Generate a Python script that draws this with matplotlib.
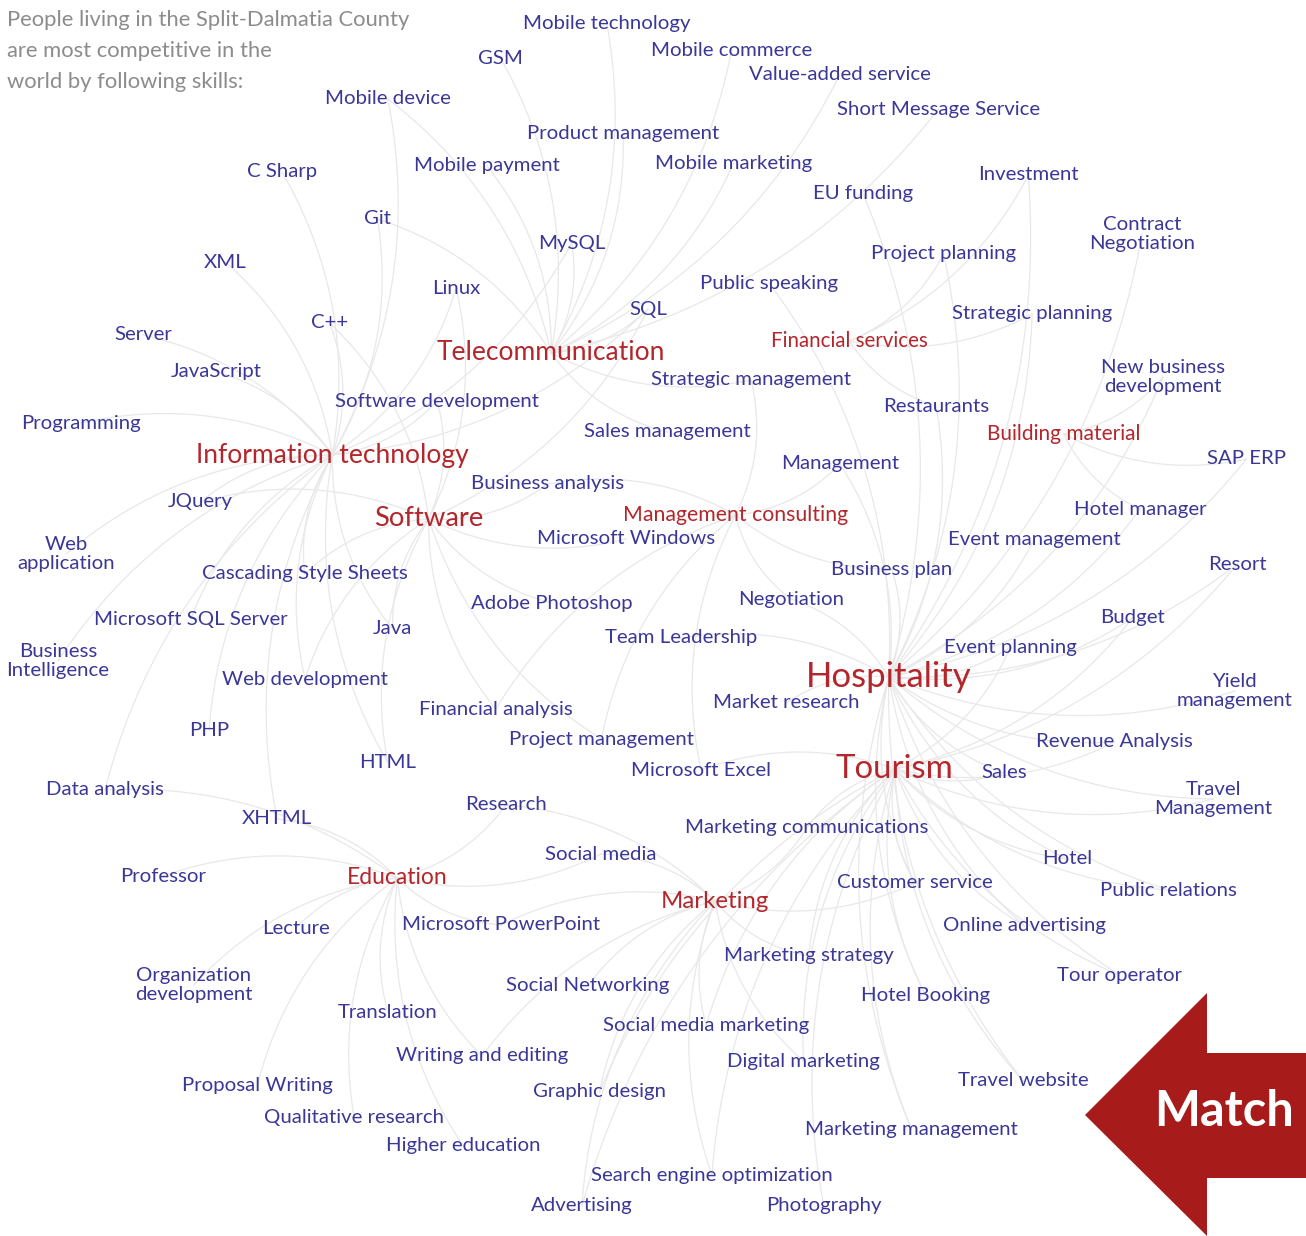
import numpy as np
import matplotlib.pyplot as plt
from matplotlib.patches import Polygon

plt.rcParams['font.family'] = ['Lato', 'DejaVu Sans']

# skill labels: (text, x, y)  single-line are left-anchored, multi-line centred
skills = [
    ('Mobile technology', 523, 23), ('GSM', 478, 58), ('Mobile commerce', 651, 50),
    ('Value-added service', 749, 74), ('Mobile device', 325, 99),
    ('Short Message Service', 837, 109), ('Product management', 527, 134),
    ('C Sharp', 247, 172), ('Mobile payment', 414, 166), ('Mobile marketing', 655, 163),
    ('Investment', 978, 175), ('EU funding', 813, 194), ('Git', 364, 219),
    ('XML', 204, 262), ('MySQL', 538, 243), ('Project planning', 871, 254),
    ('Linux', 432, 288), ('Public speaking', 700, 283), ('SQL', 629, 309),
    ('Strategic planning', 952, 314), ('Server', 114, 335), ('C++', 311, 323),
    ('JavaScript', 171, 372), ('Strategic management', 651, 380),
    ('Software development', 335, 401), ('Restaurants', 883, 406),
    ('Programming', 21, 423), ('Sales management', 584, 432), ('Management', 781, 464),
    ('SAP ERP', 1207, 459), ('Business analysis', 471, 484), ('JQuery', 168, 502),
    ('Hotel manager', 1074, 509), ('Microsoft Windows', 537, 539),
    ('Event management', 948, 539), ('Cascading Style Sheets', 202, 574),
    ('Business plan', 831, 569), ('Resort', 1208, 564), ('Adobe Photoshop', 471, 603),
    ('Negotiation', 738, 599), ('Microsoft SQL Server', 94, 619), ('Java', 373, 629),
    ('Budget', 1100, 618), ('Team Leadership', 605, 638), ('Event planning', 944, 647),
    ('Web development', 222, 679), ('Financial analysis', 419, 709),
    ('Market research', 713, 703), ('PHP', 189, 730), ('Project management', 509, 739),
    ('Revenue Analysis', 1036, 742), ('HTML', 359, 762), ('Microsoft Excel', 631, 770),
    ('Sales', 981, 773), ('Data analysis', 46, 790), ('XHTML', 242, 819),
    ('Research', 465, 805), ('Marketing communications', 685, 828),
    ('Social media', 545, 854), ('Hotel', 1042, 859), ('Professor', 120, 876),
    ('Customer service', 837, 883), ('Public relations', 1100, 890),
    ('Lecture', 262, 928), ('Microsoft PowerPoint', 402, 925),
    ('Online advertising', 943, 926), ('Marketing strategy', 724, 956),
    ('Tour operator', 1057, 975), ('Social Networking', 506, 986),
    ('Hotel Booking', 861, 995), ('Translation', 338, 1012),
    ('Social media marketing', 603, 1025), ('Writing and editing', 396, 1056),
    ('Digital marketing', 727, 1061), ('Proposal Writing', 182, 1085),
    ('Travel website', 958, 1081), ('Graphic design', 533, 1092),
    ('Qualitative research', 264, 1117), ('Marketing management', 805, 1129),
    ('Higher education', 386, 1146), ('Search engine optimization', 591, 1175),
    ('Advertising', 531, 1206), ('Photography', 766, 1206),
]
multi_skills = [
    ('Contract\nNegotiation', 1142, 234), ('New business\ndevelopment', 1163, 377),
    ('Web\napplication', 66, 554), ('Business\nIntelligence', 58, 661),
    ('Yield\nmanagement', 1235, 691), ('Travel\nManagement', 1213, 799),
    ('Organization\ndevelopment', 194, 985),
]

# industries (red hubs): (text, x, y, fontsize)
industries = [
    ('Financial services', 771, 341, 14.8), ('Telecommunication', 437, 353, 19),
    ('Building material', 987, 434, 15), ('Information technology', 196, 455, 19),
    ('Software', 374, 519, 19.7), ('Management consulting', 623, 515, 15.3),
    ('Hospitality', 806, 677, 25), ('Tourism', 836, 769, 23.7),
    ('Education', 347, 878, 16.5), ('Marketing', 661, 901, 17.3),
]

links = {
    'Hospitality': ['Restaurants', 'Hotel manager', 'Event management', 'Resort', 'Budget',
                    'Event planning', 'Yield\nmanagement', 'Revenue Analysis', 'Sales',
                    'Travel\nManagement', 'Hotel', 'Public relations', 'Customer service',
                    'Online advertising', 'Tour operator', 'Hotel Booking', 'Travel website',
                    'Management', 'Business plan', 'Negotiation', 'Market research',
                    'Marketing management', 'Investment', 'Project planning',
                    'Strategic planning', 'Contract\nNegotiation', 'New business\ndevelopment',
                    'SAP ERP', 'EU funding', 'Public speaking', 'Team Leadership'],
    'Tourism': ['Hotel', 'Travel website', 'Tour operator', 'Hotel Booking', 'Digital marketing',
                'Marketing management', 'Customer service', 'Marketing strategy',
                'Social media marketing', 'Microsoft Excel', 'Marketing communications', 'Sales',
                'Revenue Analysis', 'Travel\nManagement', 'Public relations', 'Online advertising',
                'Event planning', 'Photography', 'Search engine optimization', 'Advertising',
                'Graphic design', 'Budget', 'Resort'],
    'Information technology': ['Programming', 'Server', 'JavaScript', 'XML', 'C Sharp', 'Git',
                               'Linux', 'C++', 'JQuery', 'Web\napplication', 'Microsoft SQL Server',
                               'Business\nIntelligence', 'Cascading Style Sheets',
                               'Web development', 'PHP', 'Data analysis', 'HTML', 'XHTML', 'Java',
                               'Software development', 'MySQL', 'SQL', 'Mobile device'],
    'Software': ['Software development', 'Java', 'Microsoft Windows', 'Adobe Photoshop',
                 'Business analysis', 'HTML', 'Cascading Style Sheets', 'Web development', 'SQL',
                 'C++', 'Linux', 'Financial analysis', 'Project management', 'JQuery'],
    'Telecommunication': ['Mobile technology', 'GSM', 'Mobile commerce', 'Value-added service',
                          'Mobile device', 'Short Message Service', 'Product management',
                          'Mobile payment', 'Mobile marketing', 'MySQL', 'SQL',
                          'Strategic management', 'Sales management', 'Git'],
    'Marketing': ['Social media', 'Social Networking', 'Social media marketing',
                  'Digital marketing', 'Marketing strategy', 'Graphic design',
                  'Microsoft PowerPoint', 'Research', 'Advertising', 'Search engine optimization',
                  'Marketing communications', 'Customer service', 'Writing and editing'],
    'Education': ['Professor', 'Lecture', 'Organization\ndevelopment', 'Translation',
                  'Writing and editing', 'Proposal Writing', 'Qualitative research',
                  'Higher education', 'Research', 'Microsoft PowerPoint', 'Data analysis',
                  'XHTML', 'Social media'],
    'Management consulting': ['Management', 'Business analysis', 'Strategic management',
                              'Business plan', 'Negotiation', 'Project management',
                              'Financial analysis', 'Microsoft Excel'],
    'Financial services': ['Strategic planning', 'Investment', 'Project planning', 'Restaurants'],
    'Building material': ['New business\ndevelopment', 'SAP ERP', 'Hotel manager'],
}

intro = 'People living in the Split-Dalmatia County\nare most competitive in the\nworld by following skills:'

blue = '#3a3796'
red = '#b3262b'

fig = plt.figure(figsize=(13.06, 12.36), dpi=100)
ax = fig.add_axes([0, 0, 1, 1])
ax.set_xlim(0, 1306)
ax.set_ylim(1236, 0)
ax.axis('off')

texts = {}
for name, x, y in skills:
    texts[name] = ax.text(x, y, name, color=blue, fontsize=14.7, ha='left', va='center', zorder=3)
for name, x, y in multi_skills:
    texts[name] = ax.text(x, y, name, color=blue, fontsize=14.7, ha='center', va='center',
                          linespacing=1.15, zorder=3)
for name, x, y, fs in industries:
    texts[name] = ax.text(x, y, name, color=red, fontsize=fs, ha='left', va='center', zorder=3)

ax.text(7, 51, intro, color='#8c8c8c', fontsize=15.8, ha='left', va='center',
        linespacing=1.7, zorder=3)

# centres of labels in data coords
fig.canvas.draw()
renderer = fig.canvas.get_renderer()
inv = ax.transData.inverted()
centres = {}
for k, t in texts.items():
    bb = t.get_window_extent(renderer)
    cx, cy = inv.transform(((bb.x0 + bb.x1) / 2, (bb.y0 + bb.y1) / 2))
    centres[k] = (cx, cy)

# curved edges (quadratic bezier)
s = np.linspace(0, 1, 40)
for hub, nodes in links.items():
    x0, y0 = centres[hub]
    for n in nodes:
        x1, y1 = centres[n]
        dx, dy = x1 - x0, y1 - y0
        mx, my = (x0 + x1) / 2 - 0.18 * dy, (y0 + y1) / 2 + 0.18 * dx
        bx = (1 - s) ** 2 * x0 + 2 * (1 - s) * s * mx + s ** 2 * x1
        by = (1 - s) ** 2 * y0 + 2 * (1 - s) * s * my + s ** 2 * y1
        ax.plot(bx, by, color='#e8e8e8', lw=0.9, zorder=1)

# "Match" arrow
arrow = Polygon([(1306, 1053), (1207, 1053), (1207, 993), (1085, 1115),
                 (1207, 1236), (1207, 1178), (1306, 1178)],
                closed=True, facecolor='#a81b1b', edgecolor='none', zorder=4)
ax.add_patch(arrow)
ax.text(1224, 1112, 'Match', color='white', fontsize=35, fontweight='bold',
        ha='center', va='center', zorder=5)

fig.savefig('out.png', dpi=100)
